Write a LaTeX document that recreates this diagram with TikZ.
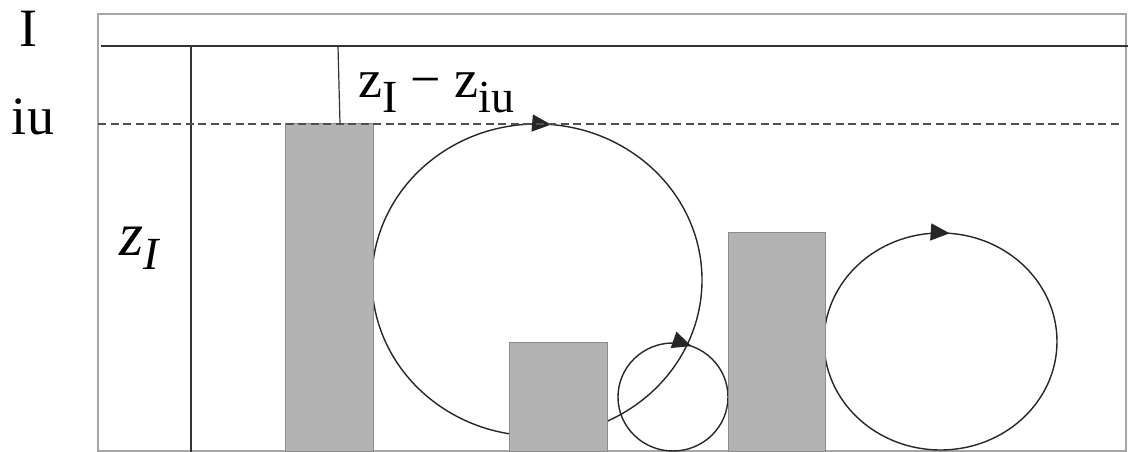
\documentclass[tikz,border=0pt]{standalone}
\usepackage{fontspec}
\setmainfont{Liberation Serif}
\usetikzlibrary{arrows.meta,decorations.markings}
\definecolor{barfill}{HTML}{B3B3B3}
\definecolor{baredge}{HTML}{8C8C8C}
\definecolor{framegray}{HTML}{A6A6A6}
\definecolor{dashgray}{HTML}{505050}
\tikzset{
  bigtext/.style={inner sep=0pt, font=\fontsize{54}{60}\selectfont},
  bar/.style={fill=barfill, draw=baredge, line width=1pt},
  loopline/.style={draw=black!85, line width=1.4pt},
  arrowat/.style={postaction={decorate}, decoration={markings,
      mark=at position #1 with {\arrow{Triangle[length=19pt,width=17pt]}}}},
  axisline/.style={draw=black!80, line width=1.4pt}
}
\begin{document}
\begin{tikzpicture}[x=1pt,y=1pt]
\useasboundingbox (0,0) rectangle (1128,452);
% outer frame
\draw[framegray, line width=1.3pt] (98,1) rectangle (1126,438);
% loops (drawn first, bars cover them)
\draw[loopline, arrowat=0.014] (537,328) arc[start angle=90, end angle=-270, x radius=165, y radius=156];
\draw[loopline, arrowat=0.055] (673,109) arc[start angle=90, end angle=-270, x radius=55, y radius=54];
\draw[loopline, arrowat=0.013] (940.5,219) arc[start angle=90, end angle=-270, x radius=116.5, y radius=108.5];
% bars
\path[bar] (285,0) rectangle (373,328);
\path[bar] (509,0) rectangle (607,109);
\path[bar] (728,0) rectangle (825,219);
% lines
\coordinate (topL) at (101,406);
\coordinate (topR) at (1128,406);
\coordinate (vtop) at (191,406);
\coordinate (vbot) at (191,0);
\coordinate (dashL) at (98,328);
\coordinate (dashR) at (1122,328);
\coordinate (tiltTop) at (338,406);
\coordinate (tiltBot) at (340,328);
\draw[axisline] (topL) -- (topR);
\draw[axisline] (vtop) -- (vbot);
\draw[dashgray, line width=1.8pt, dash pattern=on 8pt off 4.5pt] (dashL) -- (dashR);
\draw[axisline, line width=1.2pt] (tiltTop) -- (tiltBot);
% labels
\node[bigtext, anchor=base] (labI) at (28,405) {I};
\node[bigtext, anchor=base] (labIU) at (33,317) {iu};
\node[bigtext, anchor=base west] (labDiff) at (358,354)
  {z\raisebox{-15pt}{\fontsize{46}{50}\selectfont I} − z\raisebox{-15pt}{\fontsize{46}{50}\selectfont iu}};
\node[inner sep=0pt, anchor=base west] (labZ) at (119,196)
  {\fontsize{62}{66}\selectfont\itshape z\raisebox{-14pt}{\fontsize{46}{50}\selectfont I}};
\end{tikzpicture}
\end{document}
